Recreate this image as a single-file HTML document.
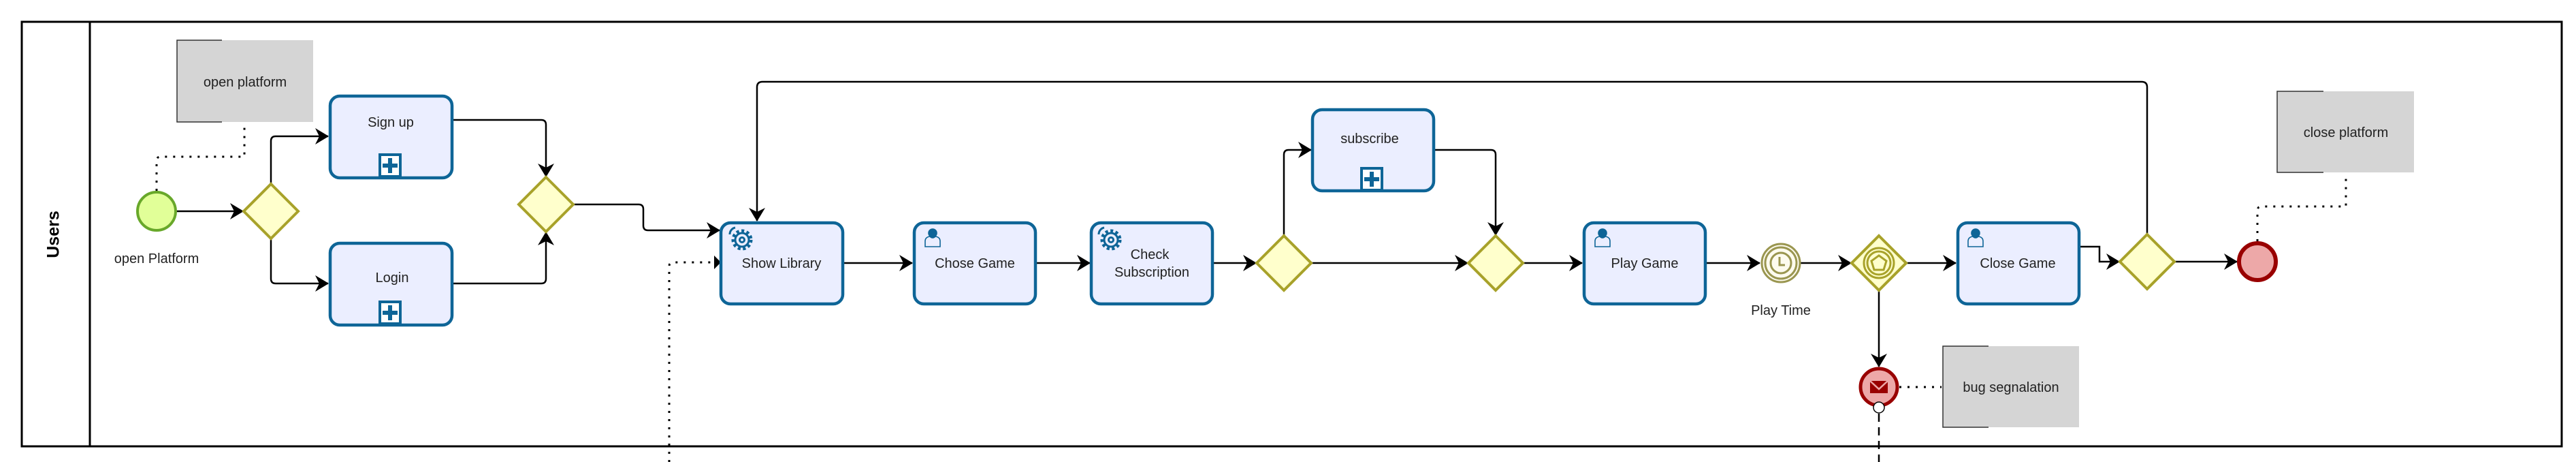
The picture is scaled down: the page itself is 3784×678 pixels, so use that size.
<!DOCTYPE html>
<html><head><meta charset="utf-8"><style>
html,body{margin:0;padding:0;background:#fff;}
svg{display:block;}
text{font-family:"Liberation Sans",sans-serif;fill:#222;}
</style></head><body>
<svg width="3784" height="678" viewBox="0 0 3784 678" xmlns="http://www.w3.org/2000/svg">
<defs>
<marker id="ar" markerWidth="20" markerHeight="24" refX="19" refY="12" orient="auto" markerUnits="userSpaceOnUse">
<path d="M0,0 L20,12 L0,24 L6,12 Z" fill="#000"/>
</marker>
<g id="plus"><rect x="-15" y="-16" width="30" height="32" fill="#fff" stroke="#0e6597" stroke-width="4"/><path d="M-3,-11h6v8h8v6h-8v8h-6v-8h-8v-6h8z" fill="#0e6597"/></g>
<g id="user" fill="none" stroke="#0e6597" stroke-width="1.6"><circle cx="0" cy="-8" r="6" fill="#0e6597"/><path d="M-11,12 v-8 q0,-6 7,-7 q4,4 8,0 q7,1 7,7 v8 z"/></g>
<g id="gear" fill="none" stroke="#0e6597" stroke-width="3"><circle cx="6" cy="6" r="13" stroke-width="5" stroke-dasharray="4 3.5"/><circle cx="6" cy="6" r="10"/><circle cx="6" cy="6" r="3.5"/><path d="M-4,-12 a10,10 0 0,0 -8,10" stroke-width="3"/></g>
</defs>

<!-- pool -->
<rect x="32" y="32" width="3731" height="623" fill="none" stroke="#000" stroke-width="3"/>
<line x1="132" y1="32" x2="132" y2="655" stroke="#000" stroke-width="3"/>
<text x="80" y="344" transform="rotate(-90 80 344)" text-anchor="middle" dominant-baseline="middle" font-size="25" font-weight="bold" style="fill:#000">Users</text>

<!-- annotations -->
<rect x="260" y="59" width="200" height="120" fill="#d5d5d5"/>
<path d="M326,59 H260 V179 H326" fill="none" stroke="#333" stroke-width="1.5"/>
<text x="360" y="127" text-anchor="middle" font-size="20">open platform</text>
<rect x="3345" y="134" width="201" height="119" fill="#d5d5d5"/>
<path d="M3413,134 H3345 V253 H3413" fill="none" stroke="#333" stroke-width="1.5"/>
<text x="3446" y="201" text-anchor="middle" font-size="20">close platform</text>
<rect x="2854" y="508" width="200" height="119" fill="#d5d5d5"/>
<path d="M2921,508 H2854 V627 H2921" fill="none" stroke="#333" stroke-width="1.5"/>
<text x="2954" y="575" text-anchor="middle" font-size="20">bug segnalation</text>

<!-- dotted associations -->
<g fill="none" stroke="#000" stroke-width="3" stroke-dasharray="3 9">
<path d="M230,280 V236 Q230,230 236,230 H359 V182"/>
<path d="M3316,354 V309 Q3316,303 3322,303 H3446 V256"/>
<path d="M2790,568 H2852"/>
<path d="M983,678 V391 Q983,385 989,385 H1055"/>
</g>
<path d="M1049,375 L1059,385 L1049,395" fill="#000"/>
<path d="M2760,607 V678" stroke="#000" stroke-width="2.5" stroke-dasharray="12 8" fill="none"/>

<!-- sequence flows -->
<g fill="none" stroke="#000" stroke-width="2.5" marker-end="url(#ar)">
<path d="M259,310 H357"/>
<path d="M398,270 V207 Q398,200 405,200 H482"/>
<path d="M398,350 V409 Q398,416 405,416 H482"/>
<path d="M665,176 H795 Q802,176 802,183 V259"/>
<path d="M665,416 H795 Q802,416 802,409 V341"/>
<path d="M842,300 H938 Q945,300 945,307 V331 Q945,338 952,338 H1057"/>
<path d="M1239,386 H1340"/>
<path d="M1521,386 H1601"/>
<path d="M1781,386 H1845"/>
<path d="M1886,346 V227 Q1886,220 1893,220 H1926"/>
<path d="M2106,220 H2190 Q2197,220 2197,227 V345"/>
<path d="M1926,386 H2156"/>
<path d="M2237,386 H2324"/>
<path d="M2506,386 H2585"/>
<path d="M2645,386 H2719"/>
<path d="M2800,386 H2873"/>
<path d="M3054,362 H3084 V384 H3113"/>
<path d="M3194,384 H3286"/>
<path d="M2760,426 V538"/>
<path d="M3154,344 V128 Q3154,120 3146,120 H1120 Q1112,120 1112,128 V324"/>
</g>

<!-- events -->
<circle cx="230" cy="310" r="28" fill="#e1ff98" stroke="#68a82a" stroke-width="4"/>
<text x="230" y="386" text-anchor="middle" font-size="20">open Platform</text>
<circle cx="2616" cy="386" r="28" fill="#fdfbee" stroke="#9a9650" stroke-width="3"/>
<circle cx="2616" cy="386" r="23" fill="none" stroke="#9a9650" stroke-width="3"/>
<circle cx="2616" cy="386" r="15" fill="none" stroke="#9a9650" stroke-width="3"/>
<path d="M2614,377 V389 H2622" fill="none" stroke="#9a9650" stroke-width="3"/>
<text x="2616" y="462" text-anchor="middle" font-size="20">Play Time</text>
<circle cx="3316" cy="384" r="27" fill="#eda8a8" stroke="#990000" stroke-width="6"/>
<circle cx="2760" cy="568" r="27" fill="#eda8a8" stroke="#990000" stroke-width="5"/>
<path d="M2747,559 H2773 V577 H2747 Z" fill="#990000"/>
<path d="M2747,559 L2760,571 L2773,559" fill="none" stroke="#eda8a8" stroke-width="2.5"/>
<circle cx="2760" cy="598" r="8" fill="#fff" stroke="#000" stroke-width="1.5"/>

<!-- gateways -->
<g fill="#ffffcc" stroke="#a8a22a" stroke-width="4">
<path d="M398,270 L438,310 L398,350 L358,310 Z"/>
<path d="M802,260 L842,300 L802,340 L762,300 Z"/>
<path d="M1886,346 L1926,386 L1886,426 L1846,386 Z"/>
<path d="M2197,346 L2237,386 L2197,426 L2157,386 Z"/>
<path d="M2760,346 L2800,386 L2760,426 L2720,386 Z"/>
<path d="M3154,344 L3194,384 L3154,424 L3114,384 Z"/>
</g>
<circle cx="2760" cy="386" r="22" fill="none" stroke="#a8a22a" stroke-width="3"/>
<circle cx="2760" cy="386" r="17" fill="none" stroke="#a8a22a" stroke-width="3"/>
<path d="M2760,375 L2771,383 L2767,396 L2753,396 L2749,383 Z" fill="none" stroke="#a8a22a" stroke-width="3"/>

<!-- tasks -->
<g fill="#ebeeff" stroke="#0e6597" stroke-width="4.5">
<rect x="485" y="141" width="179" height="120" rx="14"/>
<rect x="485" y="357" width="179" height="120" rx="14"/>
<rect x="1059" y="327" width="179" height="119" rx="14"/>
<rect x="1343" y="327" width="178" height="119" rx="14"/>
<rect x="1603" y="327" width="178" height="119" rx="14"/>
<rect x="1928" y="161" width="178" height="119" rx="14"/>
<rect x="2327" y="327" width="178" height="119" rx="14"/>
<rect x="2876" y="327" width="178" height="119" rx="14"/>
</g>
<use href="#plus" x="573" y="243"/>
<use href="#plus" x="573" y="459"/>
<use href="#plus" x="2015" y="263"/>
<use href="#gear" x="1084" y="346"/>
<use href="#gear" x="1626" y="346"/>
<use href="#user" x="1370" y="350"/>
<use href="#user" x="2354" y="350"/>
<use href="#user" x="2902" y="350"/>
<g font-size="20" text-anchor="middle">
<text x="574" y="186">Sign up</text>
<text x="576" y="414">Login</text>
<text x="1148" y="393">Show Library</text>
<text x="1432" y="393">Chose Game</text>
<text x="1689" y="380">Check</text>
<text x="1692" y="406">Subscription</text>
<text x="2012" y="210">subscribe</text>
<text x="2416" y="393">Play Game</text>
<text x="2964" y="393">Close Game</text>
</g>
</svg>
</body></html>
